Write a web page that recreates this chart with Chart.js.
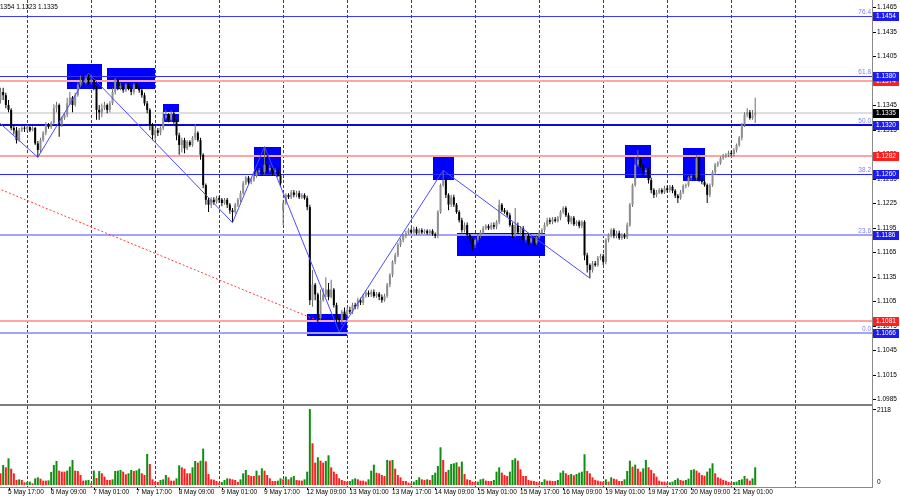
<!DOCTYPE html>
<html><head><meta charset="utf-8">
<script src="https://cdn.jsdelivr.net/npm/chart.js@4.4.1/dist/chart.umd.min.js"></script>
<style>
html,body{margin:0;padding:0;background:#fff;width:900px;height:500px;overflow:hidden}
#main{position:absolute;left:0;top:0}
#vol{position:absolute;left:0;top:404px}
</style></head><body>
<canvas id="main" width="900" height="404"></canvas>
<canvas id="vol" width="900" height="96"></canvas>
<script>
// ================= DATA (EURUSD H1, bar 0 = 5 May 14:00) =================
const barOpen = [
1.1351,1.1361,1.1357,1.1345,1.1339,1.1317,1.1314,1.1302,1.1314,1.1317,
1.1316,1.1318,1.1314,1.1317,1.1298,1.1290,1.1302,1.1311,1.1321,1.1318,
1.1323,1.1341,1.1345,1.1321,1.1329,1.1333,1.1347,1.1354,1.1345,1.1357,
1.1370,1.1376,1.1372,1.1378,1.1373,1.1376,1.1366,1.1339,1.1336,1.1341,
1.1345,1.1339,1.1347,1.1361,1.1376,1.1366,1.1368,1.1363,1.1370,1.1366,
1.1361,1.1370,1.1367,1.1363,1.1357,1.1347,1.1339,1.1321,1.1308,1.1314,
1.1311,1.1317,1.1329,1.1333,1.1327,1.1335,1.1324,1.1308,1.1296,1.1302,
1.1292,1.1300,1.1296,1.1305,1.1311,1.1302,1.1284,1.1247,1.1229,1.1223,
1.1229,1.1226,1.1231,1.1229,1.1225,1.1229,1.1223,1.1216,1.1214,1.1223,
1.1229,1.1237,1.1249,1.1256,1.1251,1.1253,1.1258,1.1263,1.1265,1.1263,
1.1272,1.1265,1.1268,1.1263,1.1265,1.1259,1.1216,1.1225,1.1235,1.1232,
1.1238,1.1235,1.1237,1.1232,1.1235,1.1231,1.1220,1.1106,1.1125,1.1113,
1.1084,1.1106,1.1113,1.1119,1.1110,1.1119,1.1100,1.1084,1.1082,1.1092,
1.1088,1.1094,1.1092,1.1100,1.1098,1.1106,1.1103,1.1111,1.1115,1.1113,
1.1116,1.1111,1.1114,1.1110,1.1106,1.1111,1.1125,1.1137,1.1153,1.1161,
1.1174,1.1180,1.1185,1.1188,1.1192,1.1189,1.1193,1.1188,1.1192,1.1189,
1.1191,1.1188,1.1191,1.1187,1.1185,1.1214,1.1247,1.1253,1.1235,1.1223,
1.1232,1.1223,1.1214,1.1204,1.1192,1.1198,1.1186,1.1180,1.1174,1.1180,
1.1185,1.1189,1.1194,1.1197,1.1194,1.1198,1.1196,1.1202,1.1223,1.1216,
1.1214,1.1210,1.1198,1.1186,1.1198,1.1189,1.1194,1.1180,1.1185,1.1177,
1.1182,1.1176,1.1183,1.1188,1.1192,1.1198,1.1204,1.1202,1.1205,1.1203,
1.1207,1.1214,1.1219,1.1210,1.1202,1.1207,1.1199,1.1202,1.1197,1.1202,
1.1161,1.1149,1.1143,1.1151,1.1149,1.1158,1.1160,1.1153,1.1180,1.1186,
1.1192,1.1185,1.1188,1.1182,1.1186,1.1183,1.1198,1.1223,1.1247,1.1272,
1.1278,1.1272,1.1263,1.1265,1.1253,1.1241,1.1235,1.1238,1.1241,1.1238,
1.1243,1.1241,1.1245,1.1240,1.1234,1.1231,1.1238,1.1246,1.1247,1.1256,
1.1258,1.1256,1.1280,1.1253,1.1251,1.1247,1.1235,1.1247,1.1263,1.1272,
1.1274,1.1280,1.1282,1.1284,1.1286,1.1285,1.1290,1.1296,1.1305,1.1321,
1.1333,1.1336,1.1329,1.1333];
const barHigh = [
1.1366,1.1366,1.1360,1.1351,1.1341,1.1321,1.1318,1.1317,1.1319,1.1319,
1.1321,1.1319,1.1319,1.1318,1.1301,1.1305,1.1313,1.1324,1.1323,1.1325,
1.1346,1.1349,1.1347,1.1331,1.1335,1.1354,1.1361,1.1356,1.1360,1.1373,
1.1381,1.1382,1.1381,1.1384,1.1382,1.1379,1.1368,1.1345,1.1347,1.1349,
1.1347,1.1350,1.1366,1.1378,1.1377,1.1372,1.1371,1.1372,1.1372,1.1368,
1.1372,1.1372,1.1370,1.1366,1.1360,1.1350,1.1341,1.1323,1.1317,1.1317,
1.1319,1.1336,1.1339,1.1335,1.1338,1.1338,1.1327,1.1311,1.1305,1.1305,
1.1302,1.1302,1.1307,1.1321,1.1313,1.1305,1.1286,1.1249,1.1231,1.1232,
1.1232,1.1234,1.1234,1.1231,1.1231,1.1231,1.1225,1.1219,1.1225,1.1231,
1.1240,1.1252,1.1258,1.1258,1.1256,1.1260,1.1265,1.1268,1.1268,1.1294,
1.1287,1.1272,1.1270,1.1268,1.1268,1.1262,1.1229,1.1237,1.1237,1.1241,
1.1241,1.1240,1.1240,1.1237,1.1237,1.1234,1.1223,1.1143,1.1127,1.1115,
1.1119,1.1121,1.1134,1.1127,1.1131,1.1121,1.1103,1.1088,1.1094,1.1097,
1.1097,1.1098,1.1103,1.1103,1.1109,1.1109,1.1114,1.1118,1.1118,1.1119,
1.1119,1.1116,1.1116,1.1113,1.1114,1.1127,1.1139,1.1155,1.1164,1.1176,
1.1182,1.1187,1.1191,1.1194,1.1194,1.1196,1.1196,1.1194,1.1194,1.1193,
1.1193,1.1193,1.1193,1.1189,1.1216,1.1249,1.1265,1.1256,1.1237,1.1235,
1.1235,1.1225,1.1216,1.1207,1.1201,1.1201,1.1188,1.1182,1.1182,1.1187,
1.1192,1.1197,1.1199,1.1199,1.1201,1.1201,1.1204,1.1229,1.1225,1.1219,
1.1216,1.1213,1.1201,1.1219,1.1201,1.1197,1.1197,1.1187,1.1187,1.1185,
1.1185,1.1186,1.1191,1.1194,1.1201,1.1207,1.1207,1.1208,1.1208,1.1209,
1.1216,1.1221,1.1221,1.1213,1.1209,1.1209,1.1204,1.1204,1.1204,1.1204,
1.1164,1.1151,1.1154,1.1154,1.1160,1.1163,1.1163,1.1182,1.1188,1.1194,
1.1194,1.1191,1.1191,1.1188,1.1188,1.1201,1.1225,1.1249,1.1281,1.1290,
1.1280,1.1274,1.1268,1.1268,1.1256,1.1243,1.1241,1.1243,1.1243,1.1246,
1.1246,1.1247,1.1247,1.1242,1.1236,1.1241,1.1248,1.1249,1.1258,1.1260,
1.1260,1.1284,1.1282,1.1256,1.1253,1.1249,1.1249,1.1265,1.1274,1.1276,
1.1282,1.1285,1.1286,1.1289,1.1289,1.1292,1.1298,1.1307,1.1323,1.1336,
1.1341,1.1339,1.1339,1.1354];
const barLow = [
1.1347,1.1351,1.1341,1.1336,1.1314,1.1309,1.1298,1.1300,1.1312,1.1312,
1.1313,1.1312,1.1313,1.1296,1.1281,1.1287,1.1300,1.1308,1.1316,1.1316,
1.1321,1.1336,1.1306,1.1318,1.1327,1.1330,1.1345,1.1336,1.1343,1.1355,
1.1367,1.1368,1.1370,1.1370,1.1370,1.1363,1.1327,1.1327,1.1330,1.1339,
1.1335,1.1336,1.1345,1.1358,1.1363,1.1363,1.1360,1.1361,1.1363,1.1357,
1.1358,1.1365,1.1360,1.1354,1.1344,1.1335,1.1314,1.1302,1.1302,1.1307,
1.1308,1.1314,1.1327,1.1324,1.1324,1.1322,1.1302,1.1284,1.1287,1.1286,
1.1290,1.1294,1.1294,1.1302,1.1300,1.1278,1.1243,1.1223,1.1214,1.1219,
1.1223,1.1224,1.1225,1.1221,1.1223,1.1219,1.1212,1.1201,1.1212,1.1220,
1.1226,1.1235,1.1247,1.1247,1.1248,1.1251,1.1256,1.1260,1.1259,1.1260,
1.1263,1.1262,1.1259,1.1260,1.1257,1.1246,1.1198,1.1223,1.1230,1.1230,
1.1232,1.1232,1.1230,1.1230,1.1229,1.1216,1.1100,1.1098,1.1106,1.1078,
1.1082,1.1104,1.1110,1.1106,1.1108,1.1097,1.1079,1.1067,1.1076,1.1082,
1.1086,1.1089,1.1089,1.1095,1.1095,1.1100,1.1100,1.1109,1.1110,1.1110,
1.1109,1.1109,1.1106,1.1103,1.1104,1.1109,1.1122,1.1134,1.1150,1.1159,
1.1171,1.1177,1.1182,1.1186,1.1187,1.1187,1.1186,1.1186,1.1187,1.1187,
1.1186,1.1186,1.1185,1.1182,1.1182,1.1212,1.1245,1.1231,1.1216,1.1220,
1.1220,1.1212,1.1201,1.1189,1.1189,1.1182,1.1176,1.1167,1.1170,1.1177,
1.1182,1.1187,1.1192,1.1192,1.1192,1.1193,1.1193,1.1199,1.1214,1.1212,
1.1208,1.1196,1.1182,1.1183,1.1187,1.1186,1.1176,1.1177,1.1174,1.1175,
1.1172,1.1174,1.1181,1.1186,1.1189,1.1196,1.1199,1.1199,1.1201,1.1201,
1.1204,1.1212,1.1208,1.1199,1.1199,1.1197,1.1197,1.1194,1.1194,1.1155,
1.1140,1.1133,1.1140,1.1147,1.1147,1.1155,1.1149,1.1150,1.1177,1.1183,
1.1182,1.1182,1.1180,1.1180,1.1181,1.1181,1.1196,1.1220,1.1245,1.1269,
1.1268,1.1259,1.1259,1.1249,1.1237,1.1231,1.1232,1.1236,1.1236,1.1236,
1.1238,1.1238,1.1237,1.1231,1.1225,1.1229,1.1236,1.1243,1.1245,1.1253,
1.1253,1.1253,1.1251,1.1248,1.1245,1.1225,1.1232,1.1245,1.1260,1.1269,
1.1272,1.1278,1.1280,1.1281,1.1282,1.1282,1.1287,1.1294,1.1302,1.1318,
1.1330,1.1327,1.1327,1.1323];
const barClose = [
1.1361,1.1357,1.1345,1.1339,1.1317,1.1314,1.1302,1.1314,1.1317,1.1316,
1.1318,1.1314,1.1317,1.1298,1.1290,1.1302,1.1311,1.1321,1.1318,1.1323,
1.1341,1.1345,1.1321,1.1329,1.1333,1.1347,1.1354,1.1345,1.1357,1.1370,
1.1376,1.1372,1.1378,1.1373,1.1376,1.1366,1.1339,1.1336,1.1341,1.1345,
1.1339,1.1347,1.1361,1.1376,1.1366,1.1368,1.1363,1.1370,1.1366,1.1361,
1.1370,1.1367,1.1363,1.1357,1.1347,1.1339,1.1321,1.1308,1.1314,1.1311,
1.1317,1.1329,1.1333,1.1327,1.1335,1.1324,1.1308,1.1296,1.1302,1.1292,
1.1300,1.1296,1.1305,1.1311,1.1302,1.1284,1.1247,1.1229,1.1223,1.1229,
1.1226,1.1231,1.1229,1.1225,1.1229,1.1223,1.1216,1.1214,1.1223,1.1229,
1.1237,1.1249,1.1256,1.1251,1.1253,1.1258,1.1263,1.1265,1.1263,1.1272,
1.1265,1.1268,1.1263,1.1265,1.1259,1.1249,1.1225,1.1235,1.1232,1.1238,
1.1235,1.1237,1.1232,1.1235,1.1231,1.1220,1.1106,1.1125,1.1113,1.1084,
1.1106,1.1113,1.1119,1.1110,1.1119,1.1100,1.1084,1.1082,1.1092,1.1088,
1.1094,1.1092,1.1100,1.1098,1.1106,1.1103,1.1111,1.1115,1.1113,1.1116,
1.1111,1.1114,1.1110,1.1106,1.1111,1.1125,1.1137,1.1153,1.1161,1.1174,
1.1180,1.1185,1.1188,1.1192,1.1189,1.1193,1.1188,1.1192,1.1189,1.1191,
1.1188,1.1191,1.1187,1.1185,1.1214,1.1247,1.1253,1.1235,1.1223,1.1232,
1.1223,1.1214,1.1204,1.1192,1.1198,1.1186,1.1180,1.1174,1.1180,1.1185,
1.1189,1.1194,1.1197,1.1194,1.1198,1.1196,1.1202,1.1223,1.1216,1.1214,
1.1210,1.1198,1.1186,1.1198,1.1189,1.1194,1.1180,1.1185,1.1177,1.1182,
1.1176,1.1183,1.1188,1.1192,1.1198,1.1204,1.1202,1.1205,1.1203,1.1207,
1.1214,1.1219,1.1210,1.1202,1.1207,1.1199,1.1202,1.1197,1.1202,1.1161,
1.1149,1.1143,1.1151,1.1149,1.1158,1.1160,1.1153,1.1180,1.1186,1.1192,
1.1185,1.1188,1.1182,1.1186,1.1183,1.1198,1.1223,1.1247,1.1272,1.1278,
1.1272,1.1263,1.1265,1.1253,1.1241,1.1235,1.1238,1.1241,1.1238,1.1243,
1.1241,1.1245,1.1240,1.1234,1.1231,1.1238,1.1246,1.1247,1.1256,1.1258,
1.1256,1.1280,1.1253,1.1251,1.1247,1.1235,1.1247,1.1263,1.1272,1.1274,
1.1280,1.1282,1.1284,1.1286,1.1285,1.1290,1.1296,1.1305,1.1321,1.1333,
1.1336,1.1329,1.1333,1.1335];
const volumes = [
326,558,493,744,456,326,140,158,140,74,
84,93,47,186,214,177,121,121,130,363,
558,670,400,372,372,400,512,698,400,391,
279,121,130,140,47,400,195,391,326,233,
140,140,158,391,400,419,372,298,326,419,
391,409,456,326,279,865,586,158,93,84,
140,158,279,214,121,121,186,549,493,456,
326,326,493,670,623,679,1014,660,307,158,
149,112,65,84,140,186,177,158,140,84,
158,326,419,279,251,251,400,270,465,400,
279,186,112,112,121,186,158,233,158,214,
251,140,130,121,158,372,2118,1163,623,772,
679,623,670,828,493,372,307,186,140,112,
93,112,158,186,158,121,121,93,158,400,
567,344,326,279,251,698,679,698,456,279,
214,112,112,65,47,93,140,214,158,140,
158,140,279,344,530,1051,698,363,419,586,
605,632,512,651,307,158,140,93,84,93,
158,177,121,112,112,140,372,493,344,279,
251,372,698,744,679,437,251,251,140,121,
112,93,65,84,158,121,121,112,112,140,
344,400,326,279,307,270,307,344,372,856,
391,326,214,140,121,102,93,158,93,214,
177,158,112,112,158,391,679,512,567,456,
372,465,698,493,419,326,233,121,93,93,
65,74,93,140,186,140,121,140,177,419,
437,400,344,279,260,372,465,605,326,214,
186,140,121,84,65,84,93,140,158,251,
177,121,186,493];

const timeLabels = ['5 May 17:00','6 May 09:00','7 May 01:00','7 May 17:00','8 May 09:00','9 May 01:00',
  '9 May 17:00','12 May 09:00','13 May 01:00','13 May 17:00','14 May 09:00','15 May 01:00',
  '15 May 17:00','16 May 09:00','19 May 01:00','19 May 17:00','20 May 09:00','21 May 01:00'];
const timeLabelBars = [3,19,35,51,67,83,99,115,131,147,163,179,195,211,227,243,259,275];
const daySeparatorBars = [10,34,58,82,106,130,154,178,202,226,250,274,298];

const priceTicks = [1.1465,1.1435,1.1405,1.1375,1.1345,1.1315,1.1285,1.1255,1.1225,1.1195,
  1.1165,1.1135,1.1105,1.1075,1.1045,1.1015,1.0985];

const fibNames = ['0.0','23.6','38.2','50.0','61.8','76.4'];
const fibPrices = [1.1066,1.1186,1.1260,1.1320,1.1380,1.1454];
const supportPrices = [1.1081,1.1282,1.1374];
const lastPrice = 1.1335;
const headerValues = ['1.1354','1.1323','1.1335'];
const volumeMaxLabel = 2118;

const boxStartBar = [25,40,61,95,115,162,171,234,256];
const boxEndBar   = [38,58,67,105,130,170,204,244,264];
const boxTopPrice = [1.1395,1.1390,1.1346,1.1294,1.1089,1.1281,1.1188,1.1296,1.1292];
const boxBottomPrice = [1.1365,1.1365,1.1324,1.1258,1.1062,1.1253,1.1160,1.1256,1.1252];

const zigzagBars = [-1,14,33,87,99,127,166,221];
const zigzagPrices = [1.1325,1.1281,1.1384,1.1201,1.1294,1.1067,1.1265,1.1133];
const trendBars = [-1,119];
const trendPrices = [1.1243,1.1081];

// ================= STYLE / LAYOUT =================
const X_MIN = -0.19, X_MAX = 326.8;
const P_MIN = 1.09789, P_MAX = 1.14736;
const V_MAX = 2174;
const FONT = '6.5px "Liberation Sans", "DejaVu Sans", Arial, sans-serif';
const fibLineColors = ['#a3a3ff','#a3a3ff','#2b2bff','#0a0ad8','#3030ff','#3b3bff'];
const fibLineWidths = [2,2,1,2,1,1];
const C = {bull:'#8e8e8e', bullWick:'#6e6e6e', bear:'#000000', volUp:'#0f8f0f', volDown:'#ff1c1c',
  grid:'#404040', box:'#0000ff', red:'#ffa3a3', last:'#dedede', axis:'#8a8a8a',
  tagFib:'#1c1cf2', tagRed:'#ff1f1f', tagLast:'#000000', fibText:'#7d7dff',
  zig:'#4a4aff', trend:'#ff3a3a'};

// ================= BUILD =================
const idx = barClose.map((_, i) => i);
const isBull = idx.map(i => barClose[i] >= barOpen[i]);
const volColors = idx.map(i => (i > 0 && volumes[i] > volumes[i-1]) ? C.volUp : C.volDown);

function drawGrid(ctx, x, top, bottom){
  ctx.save();
  ctx.strokeStyle = C.grid; ctx.lineWidth = 1; ctx.setLineDash([3,2]);
  daySeparatorBars.forEach(b => {
    const px = Math.round(x.getPixelForValue(b)) + 0.5;
    ctx.beginPath(); ctx.moveTo(px, top); ctx.lineTo(px, bottom); ctx.stroke();
  });
  ctx.restore();
}

const mainDecor = {
  id: 'mainDecor',
  beforeDatasetsDraw(chart){
    const {ctx, chartArea: a, scales: {x, y}} = chart;
    drawGrid(ctx, x, a.top, a.bottom);
    ctx.save();
    ctx.fillStyle = C.box;
    boxStartBar.forEach((b, k) => {
      const x1 = Math.round(x.getPixelForValue(b)), x2 = Math.round(x.getPixelForValue(boxEndBar[k]));
      const y1 = Math.round(y.getPixelForValue(boxTopPrice[k])), y2 = Math.round(y.getPixelForValue(boxBottomPrice[k]));
      ctx.fillRect(x1, y1, x2 - x1, y2 - y1);
    });
    const hline = (p, color, w) => {
      const py = Math.round(y.getPixelForValue(p)) + (w % 2 ? 0.5 : 0);
      ctx.strokeStyle = color; ctx.lineWidth = w;
      ctx.beginPath(); ctx.moveTo(a.left, py); ctx.lineTo(a.right, py); ctx.stroke();
    };
    hline(lastPrice, C.last, 2);
    supportPrices.forEach(p => hline(p, C.red, 2));
    fibPrices.forEach((p, k) => hline(p, fibLineColors[k], fibLineWidths[k]));
    ctx.restore();
  },
  afterDraw(chart){
    const {ctx, chartArea: a, scales: {y}} = chart;
    ctx.save();
    ctx.fillStyle = C.axis; ctx.fillRect(a.right, 0, 1, chart.height);
    ctx.font = FONT; ctx.textBaseline = 'middle'; ctx.textAlign = 'left';
    ctx.fillStyle = '#000';
    priceTicks.forEach(p => {
      const py = Math.round(y.getPixelForValue(p));
      ctx.fillRect(a.right + 1, py, 3, 1);
      ctx.fillText(p.toFixed(4), a.right + 5, py + 0.5);
    });
    const tag = (p, bg) => {
      const py = Math.round(y.getPixelForValue(p));
      ctx.fillStyle = bg; ctx.fillRect(a.right + 1, py - 4, 26, 9);
      ctx.fillStyle = '#fff'; ctx.fillText(p.toFixed(4), a.right + 4, py + 0.5);
    };
    supportPrices.forEach(p => tag(p, C.tagRed));
    tag(lastPrice, C.tagLast);
    fibPrices.forEach(p => tag(p, C.tagFib));
    ctx.fillStyle = C.fibText; ctx.textAlign = 'right'; ctx.textBaseline = 'bottom';
    fibPrices.forEach((p, k) => {
      const py = Math.round(y.getPixelForValue(p));
      ctx.fillText(fibNames[k], a.right - 1, py - 1);
    });
    ctx.fillStyle = '#000'; ctx.textAlign = 'left'; ctx.textBaseline = 'middle';
    ctx.fillText(headerValues.join(' '), -ctx.measureText('1.').width, 7);
    ctx.restore();
  }
};

const volDecor = {
  id: 'volDecor',
  beforeDatasetsDraw(chart){
    const {ctx, scales: {x}} = chart;
    drawGrid(ctx, x, 2, 83);
  },
  afterDraw(chart){
    const {ctx, chartArea: a, scales: {x, y}} = chart;
    ctx.save();
    ctx.fillStyle = '#7c7c7c'; ctx.fillRect(0, 0, a.right + 1, 2);
    ctx.fillStyle = C.axis;
    ctx.fillRect(a.right, 0, 1, 84);
    ctx.fillRect(0, 83, a.right + 1, 1);
    ctx.font = FONT; ctx.textBaseline = 'middle'; ctx.textAlign = 'left'; ctx.fillStyle = '#000';
    const pTop = Math.round(y.getPixelForValue(volumeMaxLabel));
    ctx.fillRect(a.right + 1, pTop, 3, 1);
    ctx.fillText(String(volumeMaxLabel), a.right + 5, pTop + 1.5);
    const p0 = Math.round(y.getPixelForValue(0));
    ctx.fillText('0', a.right + 5, p0 - 3);
    timeLabelBars.forEach((b, k) => {
      const px = x.getPixelForValue(b);
      ctx.fillRect(Math.round(px), 84, 1, 2);
      ctx.fillText(timeLabels[k], px - 0.5, 88.5);
    });
    ctx.restore();
  }
};

const commonX = {type: 'linear', min: X_MIN, max: X_MAX, display: false, offset: false, bounds: 'data'};

new Chart(document.getElementById('main'), {
  type: 'bar',
  data: {datasets: [
    {type: 'line', data: zigzagBars.map((b, k) => ({x: b, y: zigzagPrices[k]})),
      borderColor: C.zig, borderWidth: 1, pointRadius: 0, order: 0, clip: 0},
    {type: 'bar', data: idx.map(i => ({x: i, y: [barOpen[i], barClose[i]]})),
      backgroundColor: isBull.map(b => b ? C.bull : C.bear), barThickness: 2, minBarLength: 1,
      grouped: false, inflateAmount: 0, order: 1},
    {type: 'bar', data: idx.map(i => ({x: i, y: [barLow[i], barHigh[i]]})),
      backgroundColor: isBull.map(b => b ? C.bullWick : C.bear), barThickness: 1,
      grouped: false, inflateAmount: 0, order: 2},
    {type: 'line', data: trendBars.map((b, k) => ({x: b, y: trendPrices[k]})),
      borderColor: C.trend, borderWidth: 1, borderDash: [2, 2], pointRadius: 0, order: 3, clip: 0}
  ]},
  options: {
    responsive: false, animation: false, events: [],
    layout: {padding: {left: 0, top: 0, bottom: 0, right: 28}},
    plugins: {legend: {display: false}, tooltip: {enabled: false}},
    scales: {x: commonX, y: {type: 'linear', min: P_MIN, max: P_MAX, display: false, beginAtZero: false, bounds: 'data'}}
  },
  plugins: [mainDecor]
});

new Chart(document.getElementById('vol'), {
  type: 'bar',
  data: {datasets: [{data: idx.map(i => ({x: i, y: volumes[i]})), backgroundColor: volColors,
    barThickness: 2, inflateAmount: 0}]},
  options: {
    responsive: false, animation: false, events: [],
    layout: {padding: {left: 0, top: 3, bottom: 15, right: 28}},
    plugins: {legend: {display: false}, tooltip: {enabled: false}},
    scales: {x: commonX, y: {type: 'linear', min: 0, max: V_MAX, display: false, bounds: 'data'}}
  },
  plugins: [volDecor]
});
</script>
</body></html>
